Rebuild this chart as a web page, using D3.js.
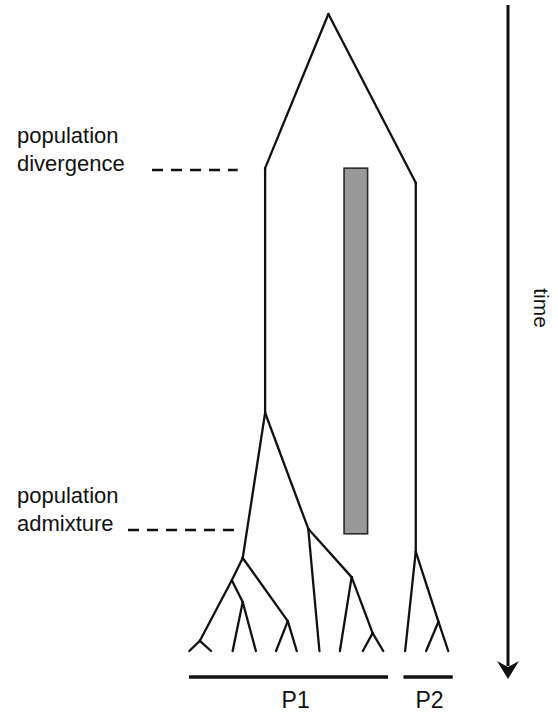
<!DOCTYPE html>
<html>
<head>
<meta charset="utf-8">
<script src="https://cdn.jsdelivr.net/npm/d3@7"></script>
<style>
  body { margin: 0; background: #fff; }
  text { font-family: "Liberation Sans", Arial, Helvetica, sans-serif; fill: #111; }
</style>
</head>
<body>
<div id="fig"></div>
<script>
// genealogy: position (0-100 across) and time (0 = oldest, 100 = present)
const nodeIds = ["anc", "p1top", "p2top", "p1root", "A", "F", "B", "C", "D", "E",
  "d1", "d2", "e1", "e2", "c1", "c2", "f1", "G", "g1", "H", "h1", "h2",
  "p2root", "q1", "K", "k1", "k2"]
const parents = ["", "anc", "anc", "p1top", "p1root", "p1root", "A", "A", "B", "B",
  "D", "D", "E", "E", "C", "C", "F", "F", "G", "G", "H", "H",
  "p2top", "p2root", "p2root", "K", "K"]
const pos = [53, 30.4, 84.2, 30.4, 22.4, 45.8, 18.5, 38.5, 7.1, 22.4,
  3.3, 11.1, 18.8, 27.1, 34.3, 41.7, 49.8, 61.3, 57.1, 68.8, 65.3, 72.6,
  84.2, 80.4, 92.3, 87.9, 95.8]
const times = [0, 24.2, 26.5, 62.6, 85.4, 80.8, 88.9, 95.3, 98.4, 92.3,
  100, 100, 100, 100, 100, 100, 100, 88.4, 100, 97.2, 100, 100,
  84.4, 100, 95.4, 100, 100]

// migration window (grey bar)
const migration = { from: 24.2, to: 81.6, left: 58.6, right: 67.0 }

// event labels
const eventLabels = [["population", "divergence"], ["population", "admixture"]]
const eventTimes = [24.5, 81]
const eventDashFrom = [152, 128]

const popNames = ["P1", "P2"]
const popSpans = [[3.2, 74.3], [79.8, 97.4]]
const popLabelPos = [41.3, 89.1]

const W = 558, H = 713
const svg = d3.select("#fig").append("svg").attr("width", W).attr("height", H)

const x = d3.scaleLinear().domain([0, 100]).range([180, 460])
const y = d3.scaleLinear().domain([0, 100]).range([14, 651])

const table = nodeIds.map((id, i) => ({ id: id, parent: parents[i], pos: pos[i], t: times[i] }))
const root = d3.stratify().id(d => d.id).parentId(d => d.parent || null)(table)

// grey bar
svg.append("rect")
  .attr("x", x(migration.left)).attr("y", y(migration.from))
  .attr("width", x(migration.right) - x(migration.left))
  .attr("height", y(migration.to) - y(migration.from))
  .attr("fill", "#999").attr("stroke", "#2a2a2a").attr("stroke-width", 1.6)

// branches
svg.selectAll(".branch").data(root.links())
  .enter().append("line")
  .attr("class", "branch")
  .attr("x1", d => x(d.source.data.pos)).attr("y1", d => y(d.source.data.t))
  .attr("x2", d => x(d.target.data.pos)).attr("y2", d => y(d.target.data.t))
  .attr("stroke", "#111").attr("stroke-width", 2.3).attr("stroke-linecap", "round")

// event labels and dashed guides
eventLabels.forEach(function(lines, i) {
  const yy = y(eventTimes[i])
  const t = svg.append("text").attr("font-size", 22)
  lines.forEach(function(s, j) {
    t.append("tspan").attr("x", 17).attr("y", yy + 1 - (lines.length - 1 - j) * 28).text(s)
  })
  svg.append("line")
    .attr("x1", eventDashFrom[i]).attr("x2", x(20.6))
    .attr("y1", yy).attr("y2", yy)
    .attr("stroke", "#111").attr("stroke-width", 2.6)
    .attr("stroke-dasharray", "11,8")
})

// population bars
popNames.forEach(function(name, i) {
  svg.append("line")
    .attr("x1", x(popSpans[i][0])).attr("x2", x(popSpans[i][1]))
    .attr("y1", 677).attr("y2", 677)
    .attr("stroke", "#111").attr("stroke-width", 3.4)
  svg.append("text")
    .attr("x", x(popLabelPos[i])).attr("y", 708)
    .attr("text-anchor", "middle").attr("font-size", 23)
    .text(name)
})

// time arrow
const ax = 508
svg.append("line")
  .attr("x1", ax).attr("x2", ax).attr("y1", 5).attr("y2", 666)
  .attr("stroke", "#111").attr("stroke-width", 3)
svg.append("path")
  .attr("d", `M${ax},679 L${ax - 11},661 L${ax},667 L${ax + 11},661 Z`)
  .attr("fill", "#111")
svg.append("text")
  .attr("transform", `translate(534,308) rotate(90)`)
  .attr("text-anchor", "middle").attr("font-size", 21)
  .text("time")
</script>
</body>
</html>
